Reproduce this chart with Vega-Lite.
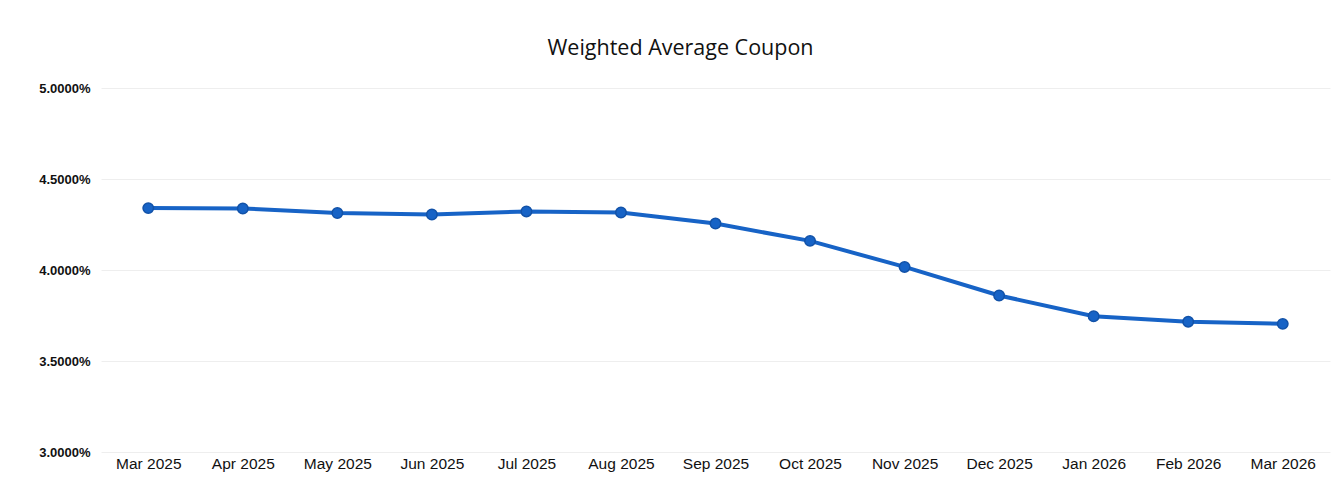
{
  "$schema": "https://vega.github.io/schema/vega-lite/v6.json",
  "autosize": {"type": "none"},
  "padding": {"left": 101, "top": 88, "right": 7, "bottom": 44},
  "width": 1229,
  "height": 364,
  "background": "white",
  "config": {"view": {"stroke": null}},
  "title": {
    "text": "Weighted Average Coupon",
    "font": "Open Sans",
    "fontSize": 21.5,
    "fontWeight": 500,
    "color": "#111111",
    "anchor": "middle",
    "dx": -35,
    "offset": 23
  },
  "data": {
    "values": [
      {"month": "Mar 2025", "wac": 0.04340},
      {"month": "Apr 2025", "wac": 0.04338},
      {"month": "May 2025", "wac": 0.04313},
      {"month": "Jun 2025", "wac": 0.04305},
      {"month": "Jul 2025", "wac": 0.04322},
      {"month": "Aug 2025", "wac": 0.04316},
      {"month": "Sep 2025", "wac": 0.04255},
      {"month": "Oct 2025", "wac": 0.04160},
      {"month": "Nov 2025", "wac": 0.04017},
      {"month": "Dec 2025", "wac": 0.03860},
      {"month": "Jan 2026", "wac": 0.03746},
      {"month": "Feb 2026", "wac": 0.03716},
      {"month": "Mar 2026", "wac": 0.03704}
    ]
  },
  "encoding": {
    "x": {
      "field": "month",
      "type": "ordinal",
      "sort": null,
      "scale": {"type": "point", "padding": 0.5},
      "axis": {
        "title": null,
        "domain": false,
        "ticks": false,
        "labelAngle": 0,
        "labelFont": "Liberation Sans",
        "labelFontSize": 15.5,
        "labelFontWeight": 500,
        "labelColor": "#111111",
        "labelPadding": 4,
        "grid": false
      }
    },
    "y": {
      "field": "wac",
      "type": "quantitative",
      "scale": {"domain": [0.03, 0.05], "nice": false, "zero": false},
      "axis": {
        "title": null,
        "format": ".4%",
        "values": [0.03, 0.035, 0.04, 0.045, 0.05],
        "domain": false,
        "ticks": false,
        "labelFont": "Liberation Sans",
        "labelFontSize": 13,
        "labelFontWeight": "bold",
        "labelColor": "#111111",
        "labelPadding": 11,
        "gridColor": "#eeeeee",
        "gridWidth": 1
      }
    }
  },
  "layer": [
    {"mark": {"type": "line", "color": "#1763c6", "strokeWidth": 4}},
    {"mark": {"type": "point", "filled": true, "color": "#1763c6", "size": 110, "opacity": 1, "stroke": "#1252a8", "strokeWidth": 1.5}}
  ]
}
